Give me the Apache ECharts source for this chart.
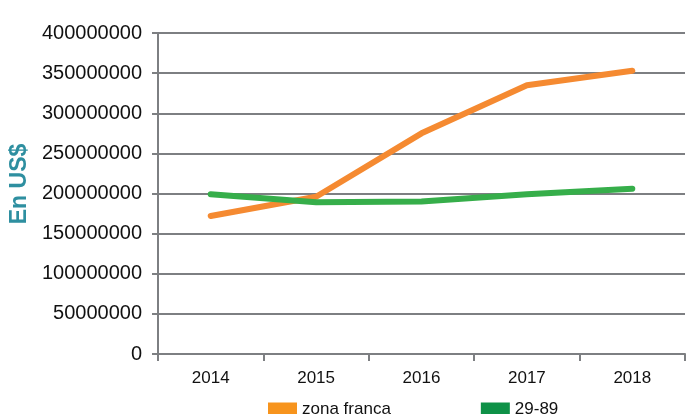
<!DOCTYPE html>
<html>
<head>
<meta charset="utf-8">
<script src="https://cdn.jsdelivr.net/npm/echarts@6/dist/echarts.min.js"></script>
<style>
  html, body { margin: 0; padding: 0; background: #fff; }
  #chartDiv { width: 686px; height: 414px; }
</style>
</head>
<body>
<div id="chartDiv"></div>
<script>
var years = ["2014", "2015", "2016", "2017", "2018"];
var zonaFranca = [172000000, 196000000, 275000000, 335000000, 353000000];
var ley2989 = [199000000, 189000000, 190000000, 199000000, 206000000];

var myChart = echarts.init(document.getElementById("chartDiv"));

var gridColor = "#7d7f82";

var option = {
  animation: false,
  textStyle: { fontFamily: "Liberation Sans, Arial, sans-serif" },
  grid: { left: 158, right: 1, top: 33, bottom: 60 },
  legend: {
    top: 396,
    left: 263,
    itemWidth: 29,
    itemHeight: 14,
    itemGap: 90,
    icon: "rect",
    textStyle: { fontSize: 17, color: "#111" },
    data: [
      { name: "zona franca", itemStyle: { color: "#f7941d" } },
      { name: "29-89", itemStyle: { color: "#0e9147" } }
    ]
  },
  xAxis: {
    type: "category",
    data: years,
    boundaryGap: true,
    axisLine: { lineStyle: { color: gridColor, width: 2 } },
    axisTick: { show: true, length: 7, lineStyle: { color: gridColor, width: 2 } },
    axisLabel: { fontSize: 17, color: "#111", margin: 16 }
  },
  yAxis: {
    type: "value",
    min: 0,
    max: 400000000,
    interval: 50000000,
    name: "En US$",
    nameLocation: "middle",
    nameGap: 127,
    nameTextStyle: {
      fontSize: 23,
      fontWeight: "bold",
      color: "#2e8fa0",
      padding: [0, 0, 0, 19]
    },
    axisLine: { show: true, lineStyle: { color: gridColor, width: 2 } },
    axisTick: { show: true, length: 6, lineStyle: { color: gridColor, width: 2 } },
    splitLine: { lineStyle: { color: gridColor, width: 2 } },
    axisLabel: {
      fontSize: 20,
      color: "#111",
      margin: 16,
      formatter: function (v) { return String(v); }
    }
  },
  series: [
    {
      name: "zona franca",
      type: "line",
      data: zonaFranca,
      symbol: "none",
      itemStyle: { color: "#f58a31" },
      lineStyle: { color: "#f58a31", width: 6, cap: "round", join: "round" }
    },
    {
      name: "29-89",
      type: "line",
      data: ley2989,
      symbol: "none",
      itemStyle: { color: "#36ae4a" },
      lineStyle: { color: "#36ae4a", width: 6, cap: "round", join: "round" }
    }
  ]
};

myChart.setOption(option);
</script>
</body>
</html>
